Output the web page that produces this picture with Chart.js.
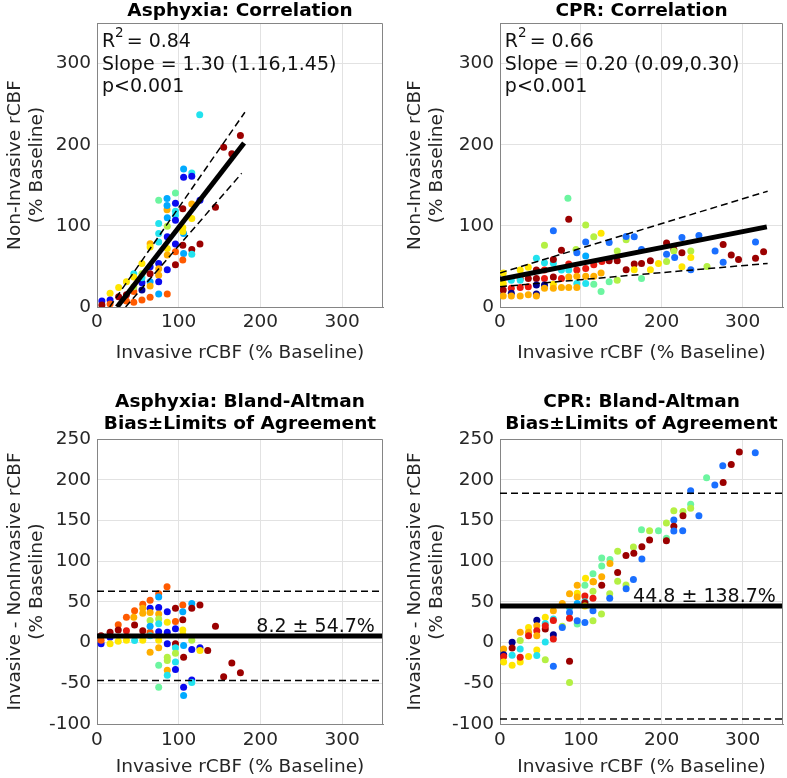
<!DOCTYPE html>
<html>
<head>
<meta charset="utf-8">
<script src="https://cdn.jsdelivr.net/npm/chart.js@4/dist/chart.umd.min.js"></script>
<style>
  body { margin: 0; background: #fff; }
  #wrap { position: relative; width: 787px; height: 778px; }
  canvas { position: absolute; }
</style>
</head>
<body>
<div id="wrap">
  <canvas id="asphyxiaCorr" width="400" height="389" style="left:0px;top:0px"></canvas>
  <canvas id="cprCorr" width="387" height="389" style="left:400px;top:0px"></canvas>
  <canvas id="asphyxiaBA" width="400" height="389" style="left:0px;top:389px"></canvas>
  <canvas id="cprBA" width="387" height="389" style="left:400px;top:389px"></canvas>
</div>
<script>
// jet-like colours, one per animal
const palette = ['#00008f', '#0a0af0', '#1a6fff', '#00aaff', '#22e2ee', '#6cf5a0',
                 '#b4f044', '#ffe600', '#ffae00', '#ff5a00', '#e8190f', '#9b0000'];

const xTicks = [0, 100, 200, 300];
const corrYTicks = [0, 100, 200, 300];
const baYTicks = [-100, -50, 0, 50, 100, 150, 200, 250];

// Asphyxia: correlation (invasive x, non-invasive y, colour index)
const asphyxiaCorrX = [125.7, 175.5, 155, 165, 106, 116, 106, 116, 75.5, 85.7, 96, 96, 85.7, 85.7, 105, 145, 116, 126,
  96, 86, 96, 116, 86, 75.5, 105, 96, 75.5, 65, 65, 75.5, 106, 105, 86, 96, 105, 116, 126, 96, 86, 106, 116, 86,
  96, 105, 86, 55, 45, 75.5, 75.5, 75.5, 65, 65, 55, 75.5, 65, 65, 36, 45, 45, 55, 55, 26.5, 16, 26.5, 75.5, 86,
  65, 55, 45, 36, 6, 6, 16, 16, 36, 45, 55];
const asphyxiaCorrY = [237, 211.5, 197, 189, 170, 165, 160, 161, 131.6, 133.6, 140.6, 128, 120, 125, 121, 123, 127, 131.6,
  118, 110, 113, 109, 99.6, 103, 98, 107, 90.6, 78, 74, 80, 90.6, 93, 86.5, 77.5, 76, 71, 77.5, 68, 72, 66, 65, 64,
  52, 58, 46, 53.7, 41, 39, 53.7, 47, 49.6, 41, 41, 31, 31, 26, 31, 37, 19, 21, 30, 24, 17, 12.7, 16, 16,
  12, 8.6, 5.7, 7.4, 7.4, 2.5, 8.6, 3.7, 15, 25, 36];
const asphyxiaCorrC = [4, 11, 11, 11, 3, 4, 1, 1, 5, 3, 5, 1, 8, 3, 11, 11, 8, 1,
  4, 3, 4, 7, 6, 4, 7, 1, 4, 8, 7, 4, 3, 7, 1, 1, 11, 11, 11, 9, 7, 3, 4, 8,
  11, 9, 1, 7, 4, 8, 1, 8, 1, 11, 6, 1, 3, 8, 7, 7, 9, 0, 1, 7, 7, 11, 3, 9,
  9, 9, 9, 9, 1, 11, 1, 9, 11, 6, 4];
const asphyxiaFitX = [24.6, 180];
const asphyxiaFitY = [0, 202];
const asphyxiaUpperX = [15.5, 181];
const asphyxiaUpperY = [0, 240];
const asphyxiaLowerX = [35, 177];
const asphyxiaLowerY = [0, 164.7];

// CPR: correlation
const cprCorrX = [84, 85, 106, 66, 125, 116, 156, 156, 166, 106, 135, 55, 76, 94, 145, 95, 106, 175, 206, 225, 246,
  215, 215, 225, 236, 236, 206, 216, 266, 276, 286, 276, 295, 316, 326, 316, 256, 236, 225, 206, 196, 186, 175,
  166, 166, 156, 186, 175, 145, 135, 145, 126, 116, 125, 116, 106, 106, 95, 95, 85, 85, 85, 116, 125, 135, 106,
  95, 95, 85, 76, 66, 66, 76, 66, 66, 45, 55, 35, 25, 4, 45, 55, 35, 25, 55, 45, 14, 25, 66, 76, 45, 55, 55, 14,
  4, 4, 14, 25, 35, 45, 45, 14, 35, 25, 4];
const cprCorrY = [134, 108, 101, 94, 91, 86.5, 83, 87, 86.5, 80, 79.5, 76, 70, 71, 69, 67, 63, 71, 79, 85.7, 88,
  71, 69, 67, 69, 61, 65, 61, 69, 77, 64, 55, 58.6, 80, 68, 60, 50, 46, 49.6, 56, 53.7, 57, 53.7,
  53, 46, 46, 46, 35, 33, 57, 57, 56, 52, 42, 38, 38, 47.5, 45.5, 38, 53, 45.5, 37, 28, 19, 31, 29,
  29, 24, 24, 24, 28, 23, 45.5, 54, 58.6, 60, 54.5, 49, 45.5, 42, 45.5, 45.5, 35, 35, 35, 35, 33, 33, 37, 35, 27, 27, 23, 23,
  21, 13.5, 17, 13.5, 15, 16, 13.5, 13.5, 25, 24, 29];
const cprCorrC = [5, 11, 6, 2, 7, 6, 6, 2, 2, 2, 2, 6, 11, 6, 6, 2, 3, 2, 11, 2, 2,
  11, 6, 11, 6, 7, 2, 2, 2, 11, 11, 2, 11, 2, 11, 11, 6, 2, 7, 6, 7, 11, 11,
  11, 7, 11, 7, 5, 6, 11, 11, 10, 10, 8, 8, 8, 10, 10, 8, 10, 4, 8, 5, 5, 5, 4,
  4, 8, 8, 8, 7, 8, 4, 4, 11, 4, 4, 7, 7, 7, 11, 10, 11, 10, 10, 11, 4, 4, 11, 10, 0, 0, 8, 10,
  11, 8, 0, 8, 8, 0, 8, 8, 10, 10, 7];
const cprFitX = [0, 330];
const cprFitY = [34, 98.8];
const cprUpperX = [0, 331];
const cprUpperY = [42, 142.7];
const cprLowerX = [0, 331];
const cprLowerY = [25, 53.7];

// Asphyxia: Bland-Altman (invasive x, difference y, colour index)
const asphyxiaBAX = [85.7, 75.5, 75.5, 65, 126, 116, 105, 116, 56, 75.5, 65, 96, 46, 56, 56, 65, 75.5, 86, 105, 36,
  45, 105, 96, 145, 26, 65, 75.5, 86, 75.5, 96, 105, 26, 46, 36, 56, 75.5, 86, 16, 65, 5, 5, 5, 16, 16, 26, 36,
  46, 56, 65, 75.5, 116, 86, 96, 106, 116, 126, 126, 135.5, 75.5, 65, 96, 106, 86, 96, 96, 75.5, 86, 86, 96, 165,
  175.5, 155, 86, 116, 116, 75.5, 106, 106, 105, 65];
const asphyxiaBAY = [68.7, 60, 56, 52, 46, 48, 46, 42, 47, 43, 42, 42, 39, 42, 36, 37, 35, 38, 38, 31,
  31, 28, 26, 20, 22, 27, 29, 25, 23, 17, 15.5, 15.5, 21.5, 14.6, 14.6, 13.4, 12.6, 12.6, 12.6, 8.5, -1.6, 3, 6.5, -1.6, 1.6, 3,
  2.4, 3, 8.5, 3, 3, -1.6, -1.6, -3.7, -8.5, -6.5, -9.8, -9.8, -6.5, -11.8, -6.5, -18, -18, -13, -24, -28, -34, -22, -33, -25,
  -37, -42, -40, -46, -49, -55, -55, -65, 10, 20];
const asphyxiaBAC = [9, 9, 3, 9, 11, 3, 9, 11, 9, 1, 1, 11, 9, 8, 8, 8, 8, 1, 3, 9,
  8, 11, 9, 11, 9, 6, 6, 7, 4, 1, 7, 11, 11, 10, 11, 1, 1, 11, 9, 11, 1, 9, 1, 7, 7, 7,
  4, 7, 4, 7, 6, 1, 11, 3, 1, 1, 7, 11, 8, 8, 4, 11, 6, 6, 4, 5, 8, 6, 1, 11,
  11, 11, 4, 1, 4, 5, 1, 3, 7, 3];
const asphyxiaBias = 8.2;
const asphyxiaLimits = [62.9, -46.5];

// CPR: Bland-Altman
const cprBAX = [296, 315.7, 275.5, 286, 255.5, 265.7, 276, 235.8, 235.8, 235.8, 226.3, 215, 246, 226.3, 215, 215, 226,
  205.8, 196, 185, 175, 205.8, 205.8, 185, 215, 145.5, 165, 175.5, 165.5, 155.8, 175.5, 125.8, 136, 125.8, 136,
  145.5, 125.8, 125.8, 115.6, 145.5, 165, 105.8, 155.8, 115, 156, 135.7, 135.7, 95.5, 105, 95.5, 105, 115, 115,
  115, 95.5, 105, 105, 86, 95.5, 86, 86, 86, 115, 125.5, 105, 115, 105, 95.5, 95.5, 77, 77, 77, 66, 66, 66, 56, 56,
  56, 56, 45.5, 45.5, 45.5, 45.5, 56, 66, 66, 35.3, 35.3, 35.3, 25, 25, 15, 15, 15, 25, 4.5, 4.5, 4.5, 4.5, 15, 25,
  25, 35.3, 45.5, 45.5, 56, 66, 86, 86];
const cprBAY = [234, 233, 217, 218.7, 202.4, 193.5, 196.7, 186.6, 170, 165, 161, 162, 155.7, 155.7, 150.5, 143, 137.4,
  146.7, 137.4, 137.4, 138.6, 128, 125, 126, 137, 112, 117.4, 117.8, 109.6, 107, 102.6, 104, 102, 94, 97,
  86, 80.9, 70.3, 74.8, 75.4, 77.6, 78.9, 70.7, 84.6, 66, 60, 54.4, 70.3, 70.3, 60.6, 57.3, 74.6, 63,
  54.4, 56, 50, 49, 60, 48, 43, 37, 30, 39, 35, 45, 26.8, 24.8, 22.8, 26.8, 48, 20, 18.6, 29, 39, 27, 31, 23.5,
  16.6, 20.6, 27.4, 20.6, 14.6, 8.5, 0.8, 9.6, 4.5, 18.6, 12.7, 8.5, 2.5, 12.7, 0.5, -6.8, -15.6, -7.8, -7.8, -15, -17, -24, -28, -24,
  -18, -17, -9, -16, -21, -29, -23, -49];
const cprBAC = [11, 2, 2, 11, 5, 2, 11, 2, 5, 6, 6, 6, 2, 11, 2, 11, 2,
  6, 5, 6, 5, 5, 11, 11, 2, 6, 6, 11, 11, 11, 2, 5, 5, 5, 8,
  11, 8, 11, 8, 6, 2, 7, 6, 5, 2, 6, 2, 8, 5, 7, 10, 8, 6,
  10, 8, 4, 11, 8, 3, 4, 2, 10, 2, 6, 7, 6, 2, 5, 2, 8, 6, 2, 4, 8, 10, 7, 4,
  11, 10, 0, 8, 10, 8, 4, 0, 10, 7, 8, 10, 6, 8, 0, 11, 4, 4, 8, 0, 10, 7, 7, 7,
  10, 7, 7, 4, 6, 2, 11, 6];
const cprBias = 44.8;
const cprLimits = [183.5, -93.9];

const FONT = 'DejaVu Sans';
const TXT = '#262626';
const AXIS = '#858585';
const GRID = '#e2e2e2';

// text inside the axes + the full MATLAB-style box
const annotate = {
  id: 'annotate',
  afterDatasetsDraw(chart, args, opts) {
    const { ctx, chartArea: a, scales: { x, y } } = chart;
    ctx.save();
    ctx.strokeStyle = AXIS;
    ctx.lineWidth = 1;
    ctx.beginPath();
    ctx.moveTo(a.left, a.top + 0.5);
    ctx.lineTo(a.right - 0.5, a.top + 0.5);
    ctx.lineTo(a.right - 0.5, a.bottom);
    ctx.stroke();
    ctx.fillStyle = '#111';
    ctx.textAlign = 'left';
    ctx.textBaseline = 'alphabetic';
    (opts.items || []).forEach(it => {
      const px = x.getPixelForValue(it.x);
      const py = y.getPixelForValue(it.y) + (it.dy || 0);
      it.lines.forEach((line, i) => {
        let cx = px;
        const by = py + i * 22.5;
        line.forEach(seg => {
          ctx.font = (seg.sup ? '13.5px' : '19px') + ' "' + FONT + '"';
          ctx.fillText(seg.t, cx, by - (seg.sup ? 10 : 0));
          cx += ctx.measureText(seg.t).width + (seg.sup ? 3 : 0);
        });
      });
    });
    ctx.restore();
  }
};

function pts(xs, ys) {
  return xs.map((v, i) => ({ x: v, y: ys[i] }));
}

function lineSet(xs, ys, width, dash) {
  return { data: pts(xs, ys), showLine: true, borderColor: '#000', borderWidth: width,
           borderDash: dash || [], pointRadius: 0, fill: false };
}

function panel(id, cfg) {
  const datasets = cfg.lines.slice();
  datasets.push({
    data: pts(cfg.px, cfg.py),
    pointBackgroundColor: cfg.pc.map(c => palette[c]),
    pointRadius: 3.5,
    pointBorderWidth: 0
  });
  new Chart(document.getElementById(id), {
    type: 'scatter',
    data: { datasets: datasets },
    plugins: [annotate],
    options: {
      responsive: false,
      animation: false,
      devicePixelRatio: 1,
      layout: { padding: cfg.pad },
      plugins: {
        legend: { display: false },
        tooltip: { enabled: false },
        title: {
          display: true, text: cfg.title, fullSize: false, color: '#000',
          font: { family: FONT, size: 18.5, weight: 'bold', lineHeight: 1.2 },
          padding: cfg.titlePad
        },
        annotate: { items: cfg.notes }
      },
      scales: {
        x: {
          type: 'linear', min: 0, max: 350,
          afterBuildTicks: s => { s.ticks = xTicks.map(v => ({ value: v })); },
          afterFit: s => { s.height = cfg.xH; },
          grid: { color: GRID, drawTicks: false },
          border: { color: AXIS },
          ticks: { padding: cfg.xTickPad, color: TXT, font: { family: FONT, size: 18.5 } },
          title: { display: true, text: 'Invasive rCBF (% Baseline)', color: TXT,
                   font: { family: FONT, size: 18.5, lineHeight: 1.2 },
                   padding: { top: 0, bottom: cfg.xTitlePad } }
        },
        y: {
          type: 'linear', min: cfg.yMin, max: cfg.yMax,
          afterBuildTicks: s => { s.ticks = cfg.yTicks.map(v => ({ value: v })); },
          afterFit: s => { s.width = cfg.yW; },
          grid: { color: GRID, drawTicks: false },
          border: { color: AXIS },
          ticks: { padding: 6, color: TXT, font: { family: FONT, size: 18.5 } },
          title: { display: true, text: cfg.yTitle, color: TXT,
                   font: { family: FONT, size: 18.5, lineHeight: 1.15 },
                   padding: { top: 5, bottom: 0 } }
        }
      }
    }
  });
}

const dash = [7, 4];
const sup2 = (val) => [{ t: 'R' }, { t: '2', sup: true }, { t: '= ' + val }];

panel('asphyxiaCorr', {
  title: 'Asphyxia: Correlation', titlePad: { top: 0, bottom: 0.8 },
  pad: { left: 0, right: 17, top: 0, bottom: 22 }, xH: 60, xTickPad: 4, xTitlePad: 3, yW: 97,
  yMin: 0, yMax: 350, yTicks: corrYTicks, yTitle: ['Non-Invasive rCBF', '(% Baseline)'],
  lines: [lineSet(asphyxiaFitX, asphyxiaFitY, 5), lineSet(asphyxiaUpperX, asphyxiaUpperY, 1.5, dash),
          lineSet(asphyxiaLowerX, asphyxiaLowerY, 1.5, dash)],
  px: asphyxiaCorrX, py: asphyxiaCorrY, pc: asphyxiaCorrC,
  notes: [{ x: 6, y: 320, lines: [sup2('0.84'), [{ t: 'Slope = 1.30 (1.16,1.45)' }], [{ t: 'p<0.001' }]] }]
});

panel('cprCorr', {
  title: 'CPR: Correlation', titlePad: { top: 0, bottom: 0.8 },
  pad: { left: 0, right: 2, top: 0, bottom: 22 }, xH: 60, xTickPad: 4, xTitlePad: 3, yW: 100,
  yMin: 0, yMax: 350, yTicks: corrYTicks, yTitle: ['Non-Invasive rCBF', '(% Baseline)'],
  lines: [lineSet(cprFitX, cprFitY, 5), lineSet(cprUpperX, cprUpperY, 1.5, dash),
          lineSet(cprLowerX, cprLowerY, 1.5, dash)],
  px: cprCorrX, py: cprCorrY, pc: cprCorrC,
  notes: [{ x: 6, y: 320, lines: [sup2('0.66'), [{ t: 'Slope = 0.20 (0.09,0.30)' }], [{ t: 'p<0.001' }]] }]
});

panel('asphyxiaBA', {
  title: ['Asphyxia: Bland-Altman', 'Bias\u00b1Limits of Agreement'], titlePad: { top: 2, bottom: 3.6 },
  pad: { left: 0, right: 17, top: 0, bottom: 0 }, xH: 54, xTickPad: 5, xTitlePad: 0, yW: 97,
  yMin: -100, yMax: 250, yTicks: baYTicks, yTitle: ['Invasive - NonInvasive rCBF', '(% Baseline)'],
  lines: [lineSet([0, 350], [asphyxiaBias, asphyxiaBias], 5),
          lineSet([0, 350], [asphyxiaLimits[0], asphyxiaLimits[0]], 1.5, dash),
          lineSet([0, 350], [asphyxiaLimits[1], asphyxiaLimits[1]], 1.5, dash)],
  px: asphyxiaBAX, py: asphyxiaBAY, pc: asphyxiaBAC,
  notes: [{ x: 195, y: asphyxiaBias, dy: -4, lines: [[{ t: '8.2 \u00b1 54.7%' }]] }]
});

panel('cprBA', {
  title: ['CPR: Bland-Altman', 'Bias\u00b1Limits of Agreement'], titlePad: { top: 2, bottom: 3.6 },
  pad: { left: 0, right: 2, top: 0, bottom: 0 }, xH: 54, xTickPad: 5, xTitlePad: 0, yW: 100,
  yMin: -100, yMax: 250, yTicks: baYTicks, yTitle: ['Invasive - NonInvasive rCBF', '(% Baseline)'],
  lines: [lineSet([0, 350], [cprBias, cprBias], 5),
          lineSet([0, 350], [cprLimits[0], cprLimits[0]], 1.5, dash),
          lineSet([0, 350], [cprLimits[1], cprLimits[1]], 1.5, dash)],
  px: cprBAX, py: cprBAY, pc: cprBAC,
  notes: [{ x: 164.6, y: cprBias, dy: -4, lines: [[{ t: '44.8 \u00b1 138.7%' }]] }]
});
</script>
</body>
</html>
